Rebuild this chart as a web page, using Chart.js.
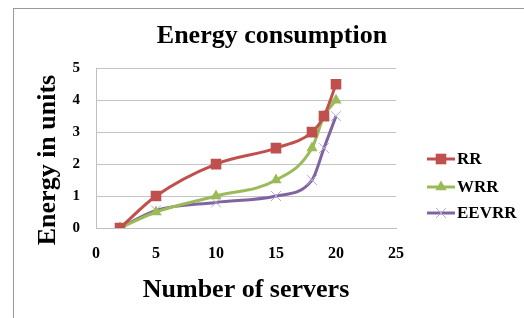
<!DOCTYPE html>
<html><head><meta charset="utf-8">
<script src="https://cdn.jsdelivr.net/npm/chart.js@4"></script>
<style>
html,body{margin:0;padding:0;background:#fff;overflow:hidden;width:524px;height:318px}
#frame{position:absolute;left:13px;top:8px;width:600px;height:400px;border:1px solid #999;}
#wrap{position:absolute;left:20px;top:0;width:504px;height:318px}
</style></head><body>
<div id="frame"></div>
<div id="wrap"><canvas id="c" width="504" height="318"></canvas></div>
<script>
const servers = [2, 5, 10, 15, 18, 19, 20];
const rr    = [0, 1, 2, 2.5, 3, 3.5, 4.5];
const wrr   = [0, 0.5, 1, 1.5, 2.5, 3.5, 4];
const eevrr = [0, 0.55, 0.8, 1, 1.5, 2.5, 3.5];
const seriesNames = ['RR', 'WRR', 'EEVRR'];
const xTicks = [0, 5, 10, 15, 20, 25];
const yTicks = [0, 1, 2, 3, 4, 5];

const FONT = "'Liberation Serif', 'Times New Roman', serif";
const pts = arr => servers.map((x, i) => ({x: x, y: arr[i]}));

const legendPlugin = {
  id: 'sideLegend',
  afterDraw(chart) {
    const ctx = chart.ctx;
    const ys = [159, 187, 213];
    chart.data.datasets.forEach((ds, i) => {
      const y = ys[i];
      ctx.save();
      ctx.strokeStyle = ds.borderColor;
      ctx.lineWidth = ds.borderWidth;
      ctx.beginPath();
      ctx.moveTo(407, y); ctx.lineTo(435, y); ctx.stroke();
      ctx.fillStyle = ds.pointBackgroundColor;
      ctx.strokeStyle = ds.pointBorderColor;
      ctx.lineWidth = ds.pointBorderWidth;
      Chart.helpers.drawPoint(ctx, {pointStyle: ds.pointStyle, rotation: 0, radius: ds.pointRadius, borderWidth: ds.pointBorderWidth}, 421, y);
      ctx.fillStyle = '#000';
      ctx.font = 'bold 17px ' + FONT;
      ctx.textBaseline = 'middle';
      ctx.textAlign = 'left';
      ctx.fillText(ds.label, 437, y + 1);
      ctx.restore();
    });
  }
};

const yTitlePlugin = {
  id: 'yTitle',
  afterDraw(chart) {
    const ctx = chart.ctx;
    ctx.save();
    ctx.translate(28, 160);
    ctx.rotate(-Math.PI / 2);
    ctx.fillStyle = '#000';
    ctx.font = 'bold 26px ' + FONT;
    ctx.textAlign = 'center';
    ctx.textBaseline = 'middle';
    ctx.fillText('Energy in units', 0, 0);
    ctx.restore();
  }
};

new Chart(document.getElementById('c'), {
  type: 'line',
  data: {
    datasets: [
      {label: seriesNames[0], data: pts(rr), borderColor: '#C0504D', backgroundColor: '#C0504D',
       pointStyle: 'rect', pointRadius: 7.5, pointBackgroundColor: '#C0504D', pointBorderColor: '#C0504D', pointBorderWidth: 0, borderWidth: 3},
      {label: seriesNames[1], data: pts(wrr), borderColor: '#9BBB59', backgroundColor: '#9BBB59',
       pointStyle: 'triangle', pointRadius: 6.5, pointBackgroundColor: '#9BBB59', pointBorderColor: '#9BBB59', pointBorderWidth: 0, borderWidth: 3},
      {label: seriesNames[2], data: pts(eevrr), borderColor: '#8064A2', backgroundColor: '#8064A2',
       pointStyle: 'crossRot', pointRadius: 7, pointBackgroundColor: '#b3a6cf', pointBorderColor: '#b3a6cf', pointBorderWidth: 1, borderWidth: 3}
    ]
  },
  options: {
    responsive: false,
    animation: false,
    cubicInterpolationMode: 'monotone',
    layout: {padding: 0},
    plugins: {
      legend: {display: false},
      tooltip: {enabled: false},
      title: {display: true, text: 'Energy consumption', color: '#000',
        font: {family: FONT, size: 26, weight: 'bold'}, padding: {top: 21, bottom: 16}}
    },
    scales: {
      x: {
        type: 'linear', min: 0, max: 25,
        afterFit(s) { s.height = 90; },
        afterBuildTicks(s) { s.ticks = xTicks.map(v => ({value: v})); },
        grid: {display: false, drawTicks: false},
        border: {display: true, color: '#bfbfbf', width: 1},
        ticks: {color: '#000', padding: 16, font: {family: FONT, size: 16, weight: 'bold'}},
        title: {display: true, text: 'Number of servers', color: '#000',
          font: {family: FONT, size: 26, weight: 'bold'}, padding: {top: 0, bottom: 12}}
      },
      y: {
        min: 0, max: 5,
        afterFit(s) { s.width = 76; },
        afterBuildTicks(s) { s.ticks = yTicks.map(v => ({value: v})); },
        grid: {color: '#c4c4c4', drawTicks: false, lineWidth: 1},
        border: {display: true, color: '#bfbfbf', width: 1},
        ticks: {color: '#000', padding: 16, font: {family: FONT, size: 15, weight: 'bold'}}
      },
      legendSpace: {
        type: 'linear', position: 'right', min: 0, max: 1,
        afterFit(s) { s.width = 128; },
        grid: {display: false, drawTicks: false},
        border: {display: false},
        ticks: {display: false}
      }
    }
  },
  plugins: [legendPlugin, yTitlePlugin]
});
</script>
</body></html>
